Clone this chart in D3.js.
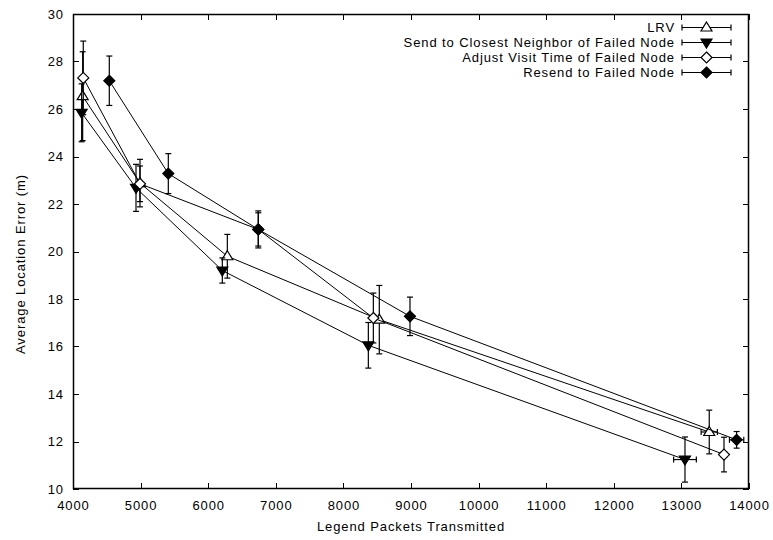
<!DOCTYPE html>
<html><head><meta charset="utf-8">
<script src="https://cdn.jsdelivr.net/npm/d3@7"></script>
<style>body{margin:0;background:#fff}svg text{font-family:"Liberation Sans",Arial,sans-serif;fill:#000;letter-spacing:0.9px}</style>
</head><body><svg id="c" width="773" height="540"></svg>
<script>
const seriesNames = ["LRV","Send to Closest Neighbor of Failed Node","Adjust Visit Time of Failed Node","Resend to Failed Node"];
const xLRV = [4143, 4991, 6283, 8531, 13412];
const yLRV = [26.54, 22.88, 19.8, 17.13, 12.4];
const yErrLRV = [1.87, 1.0, 0.92, 1.44, 0.92];
const xErrLRV = [0, 0, 0, 0, 120];
const xSend = [4128, 4932, 6209, 8369, 13053];
const ySend = [25.84, 22.68, 19.2, 16.05, 11.24];
const yErrSend = [1.22, 0.99, 0.53, 0.96, 0.95];
const xErrSend = [0, 0, 0, 0, 168];
const xAdjust = [4152, 4991, 6741, 8443, 13630];
const yAdjust = [27.31, 22.85, 20.93, 17.2, 11.45];
const yErrAdjust = [1.55, 0.75, 0.7, 1.05, 0.73];
const xErrAdjust = [0, 0, 0, 0, 40];
const xResend = [4537, 5410, 6741, 8985, 13817];
const yResend = [27.19, 23.28, 20.93, 17.27, 12.07];
const yErrResend = [1.04, 0.84, 0.78, 0.81, 0.35];
const xErrResend = [0, 0, 0, 0, 106];
const xTicks = [4000,5000,6000,7000,8000,9000,10000,11000,12000,13000,14000];
const yTicks = [10,12,14,16,18,20,22,24,26,28,30];
const xTitle = "Legend Packets Transmitted";
const yTitle = "Average Location Error (m)";

const series = [
  {name: seriesNames[0], x: xLRV, y: yLRV, ye: yErrLRV, xe: xErrLRV, sym: "triUp", fill: false},
  {name: seriesNames[1], x: xSend, y: ySend, ye: yErrSend, xe: xErrSend, sym: "triDown", fill: true},
  {name: seriesNames[2], x: xAdjust, y: yAdjust, ye: yErrAdjust, xe: xErrAdjust, sym: "diamond", fill: false},
  {name: seriesNames[3], x: xResend, y: yResend, ye: yErrResend, xe: xErrResend, sym: "diamond", fill: true}
];

const svg = d3.select("#c");
const L = 73, R = 749, T = 14, B = 489;
const x = d3.scaleLinear().domain([4000,14000]).range([L,R]);
const y = d3.scaleLinear().domain([10,30]).range([B,T]);
const FS = 13;

svg.append("defs").append("clipPath").attr("id","pc")
  .append("rect").attr("x",L).attr("y",T).attr("width",R-L).attr("height",B-T);

const tk = 6;
const g = svg.append("g").attr("stroke","#000").attr("stroke-width",1);
xTicks.forEach(v=>{
  const px = Math.round(x(v))+0.5;
  g.append("line").attr("x1",px).attr("x2",px).attr("y1",B).attr("y2",B-tk);
  g.append("line").attr("x1",px).attr("x2",px).attr("y1",T).attr("y2",T+tk);
});
yTicks.forEach(v=>{
  const py = Math.round(y(v))+0.5;
  g.append("line").attr("x1",L).attr("x2",L+tk).attr("y1",py).attr("y2",py);
  g.append("line").attr("x1",R).attr("x2",R-tk).attr("y1",py).attr("y2",py);
});
svg.append("g").selectAll("text").data(xTicks).join("text")
  .attr("x",d=>x(d)+0.5).attr("y",B+21).attr("text-anchor","middle").attr("font-size",FS).text(d=>d);
svg.append("g").selectAll("text").data(yTicks).join("text")
  .attr("x",L-9).attr("y",d=>y(d)+4.5).attr("text-anchor","end").attr("font-size",FS).text(d=>d);
svg.append("text").attr("x",411).attr("y",531).attr("text-anchor","middle").attr("font-size",FS).text(xTitle);
svg.append("text").attr("transform","translate(25,264) rotate(-90)").attr("text-anchor","middle").attr("font-size",FS).text(yTitle);

function symbol(sel, sym, fill, cx, cy){
  let pts;
  if(sym==="triUp") pts = [[0,-5.5],[5.5,3.5],[-5.5,3.5]];
  else if(sym==="triDown") pts = [[0,5.5],[5.5,-3.5],[-5.5,-3.5]];
  else pts = [[0,-5.5],[5.5,0],[0,5.5],[-5.5,0]];
  sel.append("path").attr("d", d3.line()(pts.map(p=>[cx+p[0],cy+p[1]]))+"Z")
    .attr("fill", fill?"#000":"#fff").attr("stroke","#000").attr("stroke-width",1.2);
}

const plot = svg.append("g").attr("clip-path","url(#pc)");
const cap = 3;
series.forEach(s=>{
  const gs = plot.append("g");
  const pts = s.x.map((v,i)=>[x(v), y(s.y[i])]);
  gs.append("path").attr("d", d3.line()(pts)).attr("fill","none").attr("stroke","#000").attr("stroke-width",1);
  s.x.forEach((v,i)=>{
    const cx = x(v), cy = y(s.y[i]);
    const y1 = y(s.y[i]+s.ye[i]), y2 = y(s.y[i]-s.ye[i]);
    gs.append("line").attr("x1",cx).attr("x2",cx).attr("y1",y1).attr("y2",y2).attr("stroke","#000").attr("stroke-width",1.2);
    gs.append("line").attr("x1",cx-cap).attr("x2",cx+cap).attr("y1",y1).attr("y2",y1).attr("stroke","#000").attr("stroke-width",1.2);
    gs.append("line").attr("x1",cx-cap).attr("x2",cx+cap).attr("y1",y2).attr("y2",y2).attr("stroke","#000").attr("stroke-width",1.2);
    if(s.xe[i]>0){
      const x1 = x(v-s.xe[i]), x2 = x(v+s.xe[i]);
      gs.append("line").attr("x1",x1).attr("x2",x2).attr("y1",cy).attr("y2",cy).attr("stroke","#000").attr("stroke-width",1.2);
      gs.append("line").attr("x1",x1).attr("x2",x1).attr("y1",cy-cap).attr("y2",cy+cap).attr("stroke","#000").attr("stroke-width",1.2);
      gs.append("line").attr("x1",x2).attr("x2",x2).attr("y1",cy-cap).attr("y2",cy+cap).attr("stroke","#000").attr("stroke-width",1.2);
    }
    symbol(gs, s.sym, s.fill, cx, cy);
  });
});

svg.append("rect").attr("x",L+0.5).attr("y",T+0.5).attr("width",R-L-1).attr("height",B-T-1)
  .attr("fill","none").attr("stroke","#000").attr("stroke-width",1.5);

const lg = svg.append("g");
series.forEach((s,i)=>{
  const cy = 27.5 + i*15;
  lg.append("text").attr("x",675).attr("y",cy+4.5).attr("text-anchor","end").attr("font-size",FS).text(s.name);
  const a = 682, b = 731;
  lg.append("line").attr("x1",a).attr("x2",b).attr("y1",cy).attr("y2",cy).attr("stroke","#000").attr("stroke-width",1.2);
  lg.append("line").attr("x1",a).attr("x2",a).attr("y1",cy-cap).attr("y2",cy+cap).attr("stroke","#000").attr("stroke-width",1.2);
  lg.append("line").attr("x1",b).attr("x2",b).attr("y1",cy-cap).attr("y2",cy+cap).attr("stroke","#000").attr("stroke-width",1.2);
  symbol(lg, s.sym, s.fill, (a+b)/2, cy);
});
</script></body></html>
